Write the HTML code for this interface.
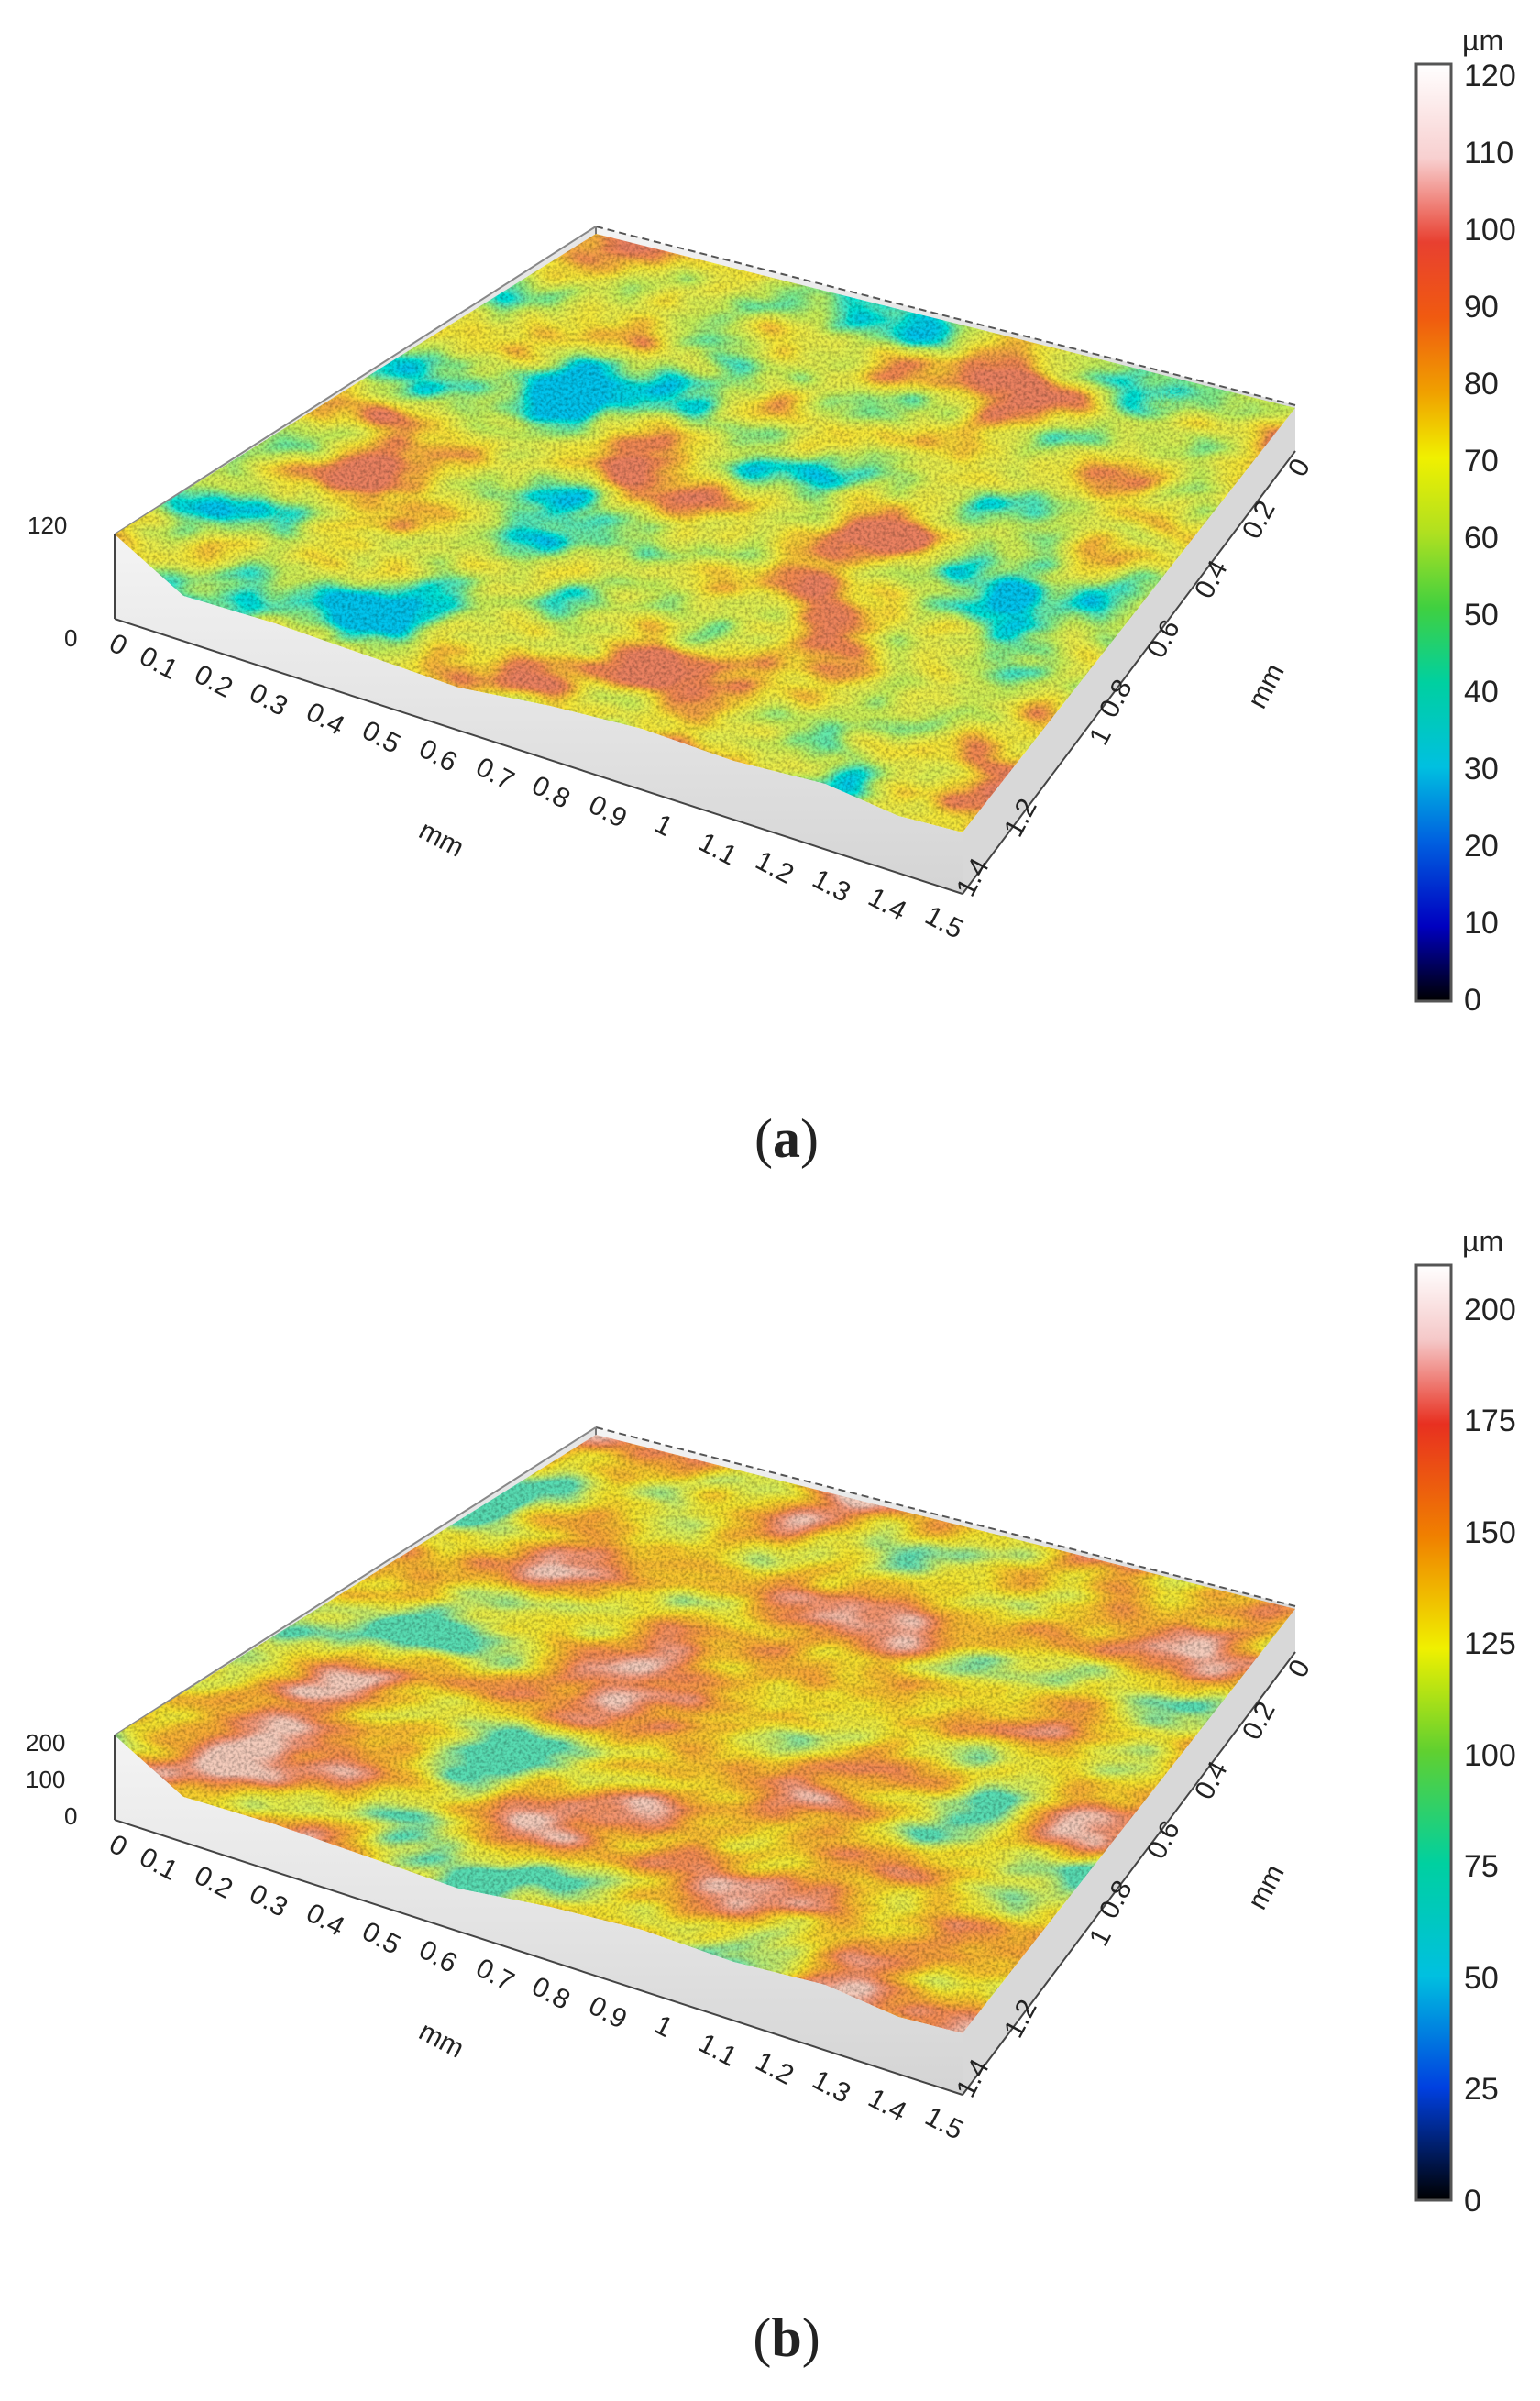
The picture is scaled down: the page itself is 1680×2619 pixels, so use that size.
<!DOCTYPE html>
<html><head><meta charset="utf-8"><style>
html,body{margin:0;padding:0;background:#fff;}
svg{display:block;}
text{font-family:"Liberation Sans",sans-serif;fill:#222;}
</style></head><body>
<svg width="1680" height="2619" viewBox="0 0 1680 2619" xmlns="http://www.w3.org/2000/svg">
<defs>
<linearGradient id="cbA" x1="0" y1="0" x2="0" y2="1">
<stop offset="0" stop-color="#ffffff"/><stop offset="0.1" stop-color="#f8d0d0"/><stop offset="0.19" stop-color="#e84030"/>
<stop offset="0.27" stop-color="#f05a10"/><stop offset="0.35" stop-color="#f0a000"/><stop offset="0.42" stop-color="#f0f000"/>
<stop offset="0.5" stop-color="#b0e020"/><stop offset="0.58" stop-color="#40d040"/><stop offset="0.66" stop-color="#00d0a0"/>
<stop offset="0.75" stop-color="#00c0e0"/><stop offset="0.83" stop-color="#0060e0"/><stop offset="0.92" stop-color="#0000c0"/>
<stop offset="1" stop-color="#000000"/></linearGradient>
<linearGradient id="cbB" x1="0" y1="0" x2="0" y2="1">
<stop offset="0" stop-color="#ffffff"/><stop offset="0.08" stop-color="#f5c8c8"/><stop offset="0.17" stop-color="#e83020"/>
<stop offset="0.29" stop-color="#f08000"/><stop offset="0.41" stop-color="#f0f000"/><stop offset="0.52" stop-color="#60d030"/>
<stop offset="0.64" stop-color="#00d0a0"/><stop offset="0.76" stop-color="#00c0e0"/><stop offset="0.88" stop-color="#0040e0"/>
<stop offset="1" stop-color="#000000"/></linearGradient>
<linearGradient id="wall" x1="0" y1="0" x2="0" y2="1"><stop offset="0" stop-color="#f4f4f4"/><stop offset="1" stop-color="#d4d4d4"/></linearGradient>
<filter id="surfA" x="0" y="0" width="100%" height="100%">
<feTurbulence type="fractalNoise" baseFrequency="0.006 0.013" numOctaves="3" seed="3" result="t"/>
<feColorMatrix in="t" type="matrix" values="1 0 0 0 0  1 0 0 0 0  1 0 0 0 0  0 0 0 0 1"/>
<feComponentTransfer>
<feFuncR type="linear" slope="2" intercept="-0.5"/><feFuncG type="linear" slope="2" intercept="-0.5"/><feFuncB type="linear" slope="2" intercept="-0.5"/>
</feComponentTransfer>
<feComponentTransfer>
<feFuncR type="table" tableValues="0 0 0.2 0.55 0.78 0.92 0.92 0.88 0.82"/>
<feFuncG type="table" tableValues="0.55 0.78 0.82 0.85 0.85 0.8 0.5 0.25 0.22"/>
<feFuncB type="table" tableValues="0.85 0.65 0.25 0.1 0.08 0.04 0.04 0.08 0.12"/>
</feComponentTransfer>
</filter>
<filter id="surfB" x="0" y="0" width="100%" height="100%">
<feTurbulence type="fractalNoise" baseFrequency="0.005 0.014" numOctaves="3" seed="11" result="t"/>
<feColorMatrix in="t" type="matrix" values="1 0 0 0 0  1 0 0 0 0  1 0 0 0 0  0 0 0 0 1"/>
<feComponentTransfer>
<feFuncR type="linear" slope="2" intercept="-0.5"/><feFuncG type="linear" slope="2" intercept="-0.5"/><feFuncB type="linear" slope="2" intercept="-0.5"/>
</feComponentTransfer>
<feComponentTransfer>
<feFuncR type="table" tableValues="0.1 0.4 0.75 0.9 0.93 0.92 0.9 0.88 0.9"/>
<feFuncG type="table" tableValues="0.72 0.8 0.85 0.78 0.55 0.38 0.26 0.32 0.6"/>
<feFuncB type="table" tableValues="0.45 0.2 0.08 0.03 0.03 0.04 0.08 0.2 0.5"/>
</feComponentTransfer>
</filter>
<filter id="grain" x="0" y="0" width="100%" height="100%">
<feTurbulence type="fractalNoise" baseFrequency="0.3" numOctaves="2" seed="5" result="g"/>
<feColorMatrix in="g" type="matrix" values="0 0 0 0 0  0 0 0 0 0  0 0 0 0 0  -2.2 0 0 0 1.35"/>
</filter>
<clipPath id="clipA"><path d="M125,583 L650,255 L1413,445 L1050,908 L980,890 L900,855 L800,830 L700,795 L600,770 L500,750 L400,715 L300,680 L200,650 Z"/></clipPath>
<g id="box">
<polygon points="650,247 1413,442 1413,492 650,300" fill="url(#wall)"/>
<polygon points="125,583 650,247 650,300 125,675" fill="#e6e6e6"/>
<line x1="650" y1="247" x2="1413" y2="442" stroke="#555" stroke-width="2" stroke-dasharray="8,5"/>
<line x1="650" y1="247" x2="650" y2="300" stroke="#777" stroke-width="2"/>
<line x1="650" y1="247" x2="125" y2="583" stroke="#888" stroke-width="2"/>
</g>
<g id="front">
<polygon points="125,583 200,650 300,680 400,715 500,750 600,770 700,795 800,830 900,855 980,890 1050,908 1050,975 125,675" fill="url(#wall)"/>
<polygon points="1050,908 1413,445 1413,492 1050,975" fill="#d8d8d8"/>
<line x1="125" y1="675" x2="1050" y2="975" stroke="#444" stroke-width="2"/>
<line x1="1050" y1="975" x2="1413" y2="492" stroke="#444" stroke-width="2"/>
<line x1="125" y1="583" x2="125" y2="675" stroke="#444" stroke-width="2"/>
</g>
<g id="ticks" font-size="30">
<text transform="translate(117,708) rotate(28)">0</text>
<text transform="translate(150,722) rotate(28)">0.1</text>
<text transform="translate(210,742) rotate(28)">0.2</text>
<text transform="translate(270,762) rotate(28)">0.3</text>
<text transform="translate(332,783) rotate(28)">0.4</text>
<text transform="translate(393,803) rotate(28)">0.5</text>
<text transform="translate(455,823) rotate(28)">0.6</text>
<text transform="translate(517,843) rotate(28)">0.7</text>
<text transform="translate(578,863) rotate(28)">0.8</text>
<text transform="translate(640,884) rotate(28)">0.9</text>
<text transform="translate(712,905) rotate(28)">1</text>
<text transform="translate(760,925) rotate(28)">1.1</text>
<text transform="translate(822,945) rotate(28)">1.2</text>
<text transform="translate(884,965) rotate(28)">1.3</text>
<text transform="translate(945,985) rotate(28)">1.4</text>
<text transform="translate(1007,1005) rotate(28)">1.5</text>
<text transform="translate(455,912) rotate(28)">mm</text>
<text transform="translate(1422,522) rotate(-62)">0</text>
<text transform="translate(1372,590) rotate(-62)">0.2</text>
<text transform="translate(1320,655) rotate(-62)">0.4</text>
<text transform="translate(1268,720) rotate(-62)">0.6</text>
<text transform="translate(1216,785) rotate(-62)">0.8</text>
<text transform="translate(1205,815) rotate(-62)">1</text>
<text transform="translate(1112,915) rotate(-62)">1.2</text>
<text transform="translate(1060,980) rotate(-62)">1.4</text>
<text transform="translate(1378,775) rotate(-62)">mm</text>
</g>
</defs>

<!-- Panel A -->
<use href="#box"/>
<g clip-path="url(#clipA)"><rect x="100" y="230" width="1330" height="700" filter="url(#surfA)"/>
<rect x="100" y="230" width="1330" height="700" filter="url(#grain)" opacity="0.28"/></g>
<use href="#front"/>
<text x="30" y="582" font-size="26">120</text>
<text x="70" y="705" font-size="26">0</text>
<use href="#ticks"/>
<rect x="1545" y="70" width="38" height="1022" fill="url(#cbA)" stroke="#555" stroke-width="3"/>
<text x="1595" y="55" font-size="32">µm</text>
<g font-size="34">
<text x="1597" y="94">120</text><text x="1597" y="178">110</text><text x="1597" y="262">100</text>
<text x="1597" y="346">90</text><text x="1597" y="430">80</text><text x="1597" y="514">70</text>
<text x="1597" y="598">60</text><text x="1597" y="682">50</text><text x="1597" y="766">40</text>
<text x="1597" y="850">30</text><text x="1597" y="934">20</text><text x="1597" y="1018">10</text>
<text x="1597" y="1102">0</text>
</g>
<text x="858" y="1262" font-size="60" text-anchor="middle" style="font-family:'Liberation Serif',serif">(<tspan font-weight="bold">a</tspan>)</text>

<!-- Panel B -->
<g transform="translate(0,1310)">
<use href="#box"/>
<g clip-path="url(#clipA)"><rect x="100" y="230" width="1330" height="700" filter="url(#surfB)"/>
<rect x="100" y="230" width="1330" height="700" filter="url(#grain)" opacity="0.28"/></g>
<use href="#front"/>
<text x="28" y="600" font-size="26">200</text>
<text x="28" y="640" font-size="26">100</text>
<text x="70" y="680" font-size="26">0</text>
<use href="#ticks"/>
</g>
<rect x="1545" y="1380" width="38" height="1020" fill="url(#cbB)" stroke="#555" stroke-width="3"/>
<text x="1595" y="1365" font-size="32">µm</text>
<g font-size="34">
<text x="1597" y="1440">200</text><text x="1597" y="1561">175</text><text x="1597" y="1683">150</text>
<text x="1597" y="1804">125</text><text x="1597" y="1926">100</text><text x="1597" y="2047">75</text>
<text x="1597" y="2169">50</text><text x="1597" y="2290">25</text><text x="1597" y="2412">0</text>
</g>
<text x="858" y="2570" font-size="60" text-anchor="middle" style="font-family:'Liberation Serif',serif">(<tspan font-weight="bold">b</tspan>)</text>
</svg>
</body></html>
